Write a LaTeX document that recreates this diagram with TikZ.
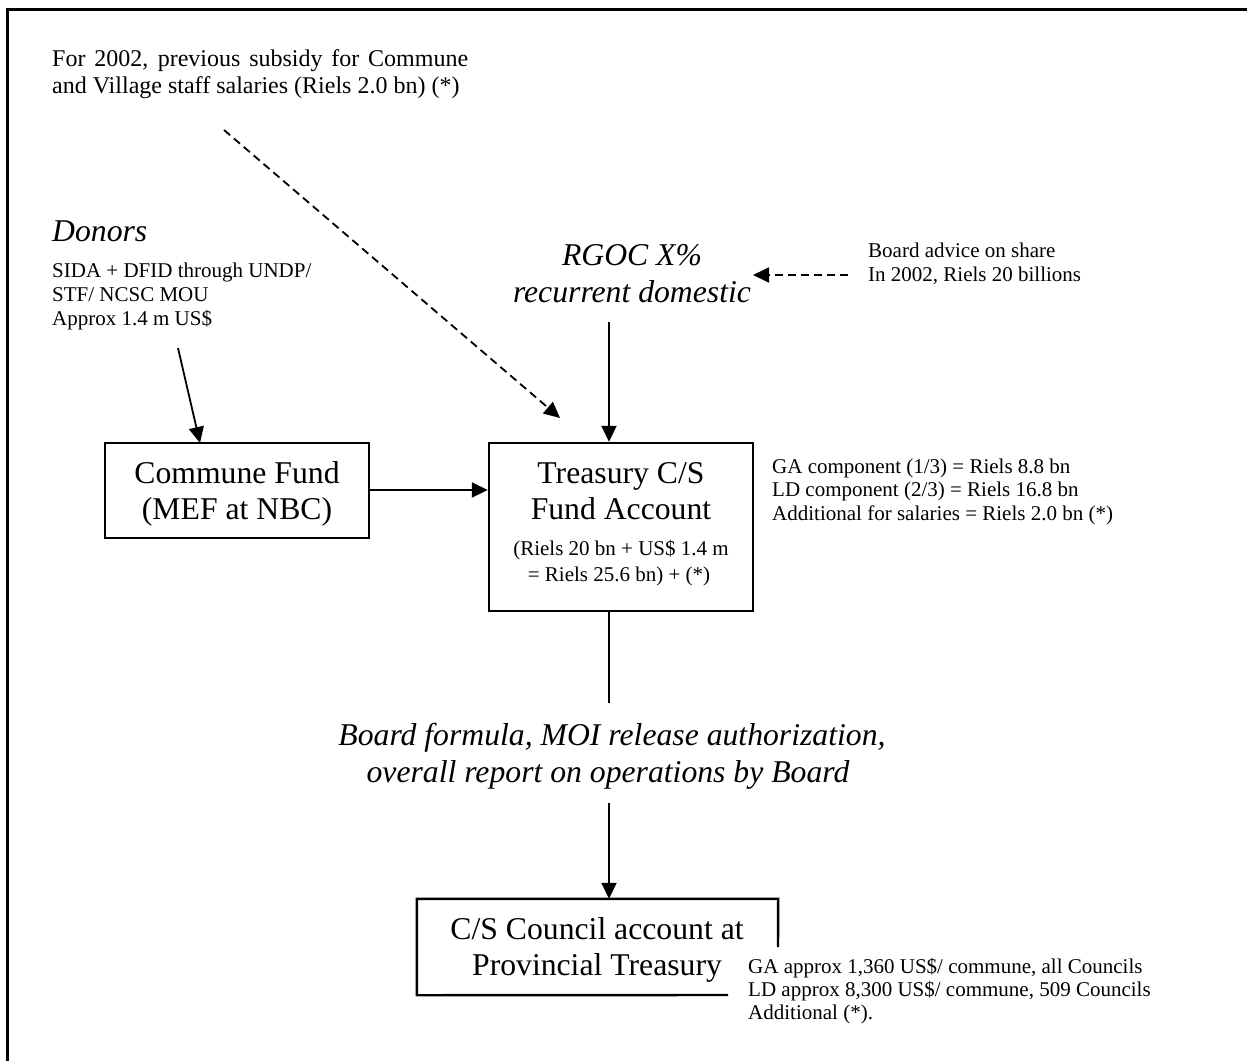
\documentclass[tikz,border=0pt]{standalone}
\usepackage{fontspec}
\setmainfont{Liberation Serif}
\usetikzlibrary{arrows.meta}
\newcommand\fbig{\fontsize{31.7}{36.5}\selectfont}
\newcommand\fsmall{\fontsize{21}{23.5}\selectfont}
\newcommand\ftop{\fontsize{24}{26.5}\selectfont}
\begin{document}
\begin{tikzpicture}[x=1pt,y=-1pt,
  boxline/.style={line width=2.4pt},
  box/.style={draw, boxline, inner sep=0pt},
  conn/.style={line width=1.8pt},
  arr/.style={conn, -{Triangle[length=16pt,width=15pt]}},
  darr/.style={arr, dash pattern=on 8pt off 5pt},
  txt/.style={inner sep=0pt},
]
\useasboundingbox (0,0) rectangle (1247,1061);
% frame
\draw[line width=2.4pt] (1247,9.5) -- (7.5,9.5) -- (7.5,1061);

% boxes
\node[box, minimum width=264pt, minimum height=95pt] (cf) at (237,490.5) {};
\node[box, minimum width=264pt, minimum height=168pt] (treas) at (621,527) {};
\node[inner sep=0pt, minimum width=361pt, minimum height=96pt] (council) at (597.5,947) {};
\draw[boxline] (728,995) -- (council.south west) -- (council.north west) -- (council.north east) -- (778,947);

% top text
\node[txt, anchor=base west] (top1) at (52,66) {\ftop\makebox[416pt][s]{For 2002, previous subsidy for Commune}};
\node[txt, anchor=base west] (top2) at (52,93) {\ftop and Village staff salaries (Riels 2.0 bn) (*)};

% donors
\node[txt, anchor=base west] (donors) at (52,241) {\fbig\itshape Donors};
\node[txt, anchor=base west] (don1) at (52,277) {\fsmall SIDA + DFID through UNDP/};
\node[txt, anchor=base west] (don2) at (52,301) {\fsmall STF/ NCSC MOU};
\node[txt, anchor=base west] (don3) at (52,325) {\fsmall Approx 1.4 m US\$};

% RGOC
\node[txt, anchor=base] (rgoc1) at (632,265) {\fbig\itshape RGOC X\%};
\node[txt, anchor=base] (rgoc2) at (632,302) {\fbig\itshape recurrent domestic};

% board advice
\node[txt, anchor=base west] (adv1) at (868,257) {\fsmall Board advice on share};
\node[txt, anchor=base west] (adv2) at (868,281) {\fsmall In 2002, Riels 20 billions};

% box texts
\node[txt, anchor=base] (cf1) at (237,483) {\fbig Commune Fund};
\node[txt, anchor=base] (cf2) at (237,519) {\fbig (MEF at NBC)};
\node[txt, anchor=base] (tr1) at (621,483) {\fbig Treasury C/S};
\node[txt, anchor=base] (tr2) at (621,519) {\fbig Fund Account};
\node[txt, anchor=base] (tr3) at (621,555) {\fsmall (Riels 20 bn + US\$ 1.4 m};
\node[txt, anchor=base] (tr4) at (619,581) {\fsmall = Riels 25.6 bn) + (*)};

% components
\node[txt, anchor=base west] (ga1) at (772,473) {\fsmall GA component (1/3) = Riels 8.8 bn};
\node[txt, anchor=base west] (ga2) at (772,496.5) {\fsmall LD component (2/3) = Riels 16.8 bn};
\node[txt, anchor=base west] (ga3) at (772,520) {\fsmall Additional for salaries = Riels 2.0 bn (*)};

% board formula
\node[txt, anchor=base] (bf1) at (612,745) {\fbig\itshape Board formula, MOI release authorization,};
\node[txt, anchor=base] (bf2) at (608,782) {\fbig\itshape overall report on operations by Board};

% council texts
\node[txt, anchor=base] (co1) at (597,939) {\fbig C/S Council account at};
\node[txt, anchor=base] (co2) at (597,975) {\fbig Provincial Treasury};
\node[txt, anchor=base west] (ca1) at (748,973) {\fsmall GA approx 1,360 US\$/ commune, all Councils};
\node[txt, anchor=base west] (ca2) at (748,996) {\fsmall LD approx 8,300 US\$/ commune, 509 Councils};
\node[txt, anchor=base west] (ca3) at (748,1019) {\fsmall Additional (*).};

% connectors
\coordinate (d0) at (178,348);
\coordinate (dtip) at (200,443);
\draw[arr] (d0) -- (dtip);
\draw[arr] (cf.east |- 0,490) -- (treas.west |- 0,490);
\coordinate (rg0) at (609,322);
\draw[arr] (rg0) -- (rg0 |- treas.north);
\coordinate (s0) at (224,130);
\coordinate (s1) at (560,418);
\draw[darr] (s0) -- (s1);
\coordinate (a0) at (848,275);
\coordinate (a1) at (753,275);
\draw[darr] (a0) -- (a1);
\coordinate (b0) at (609,703);
\draw[conn] (b0 |- treas.south) -- (b0);
\coordinate (b1) at (609,803);
\draw[arr] (b1) -- (b1 |- council.north);
\end{tikzpicture}
\end{document}
